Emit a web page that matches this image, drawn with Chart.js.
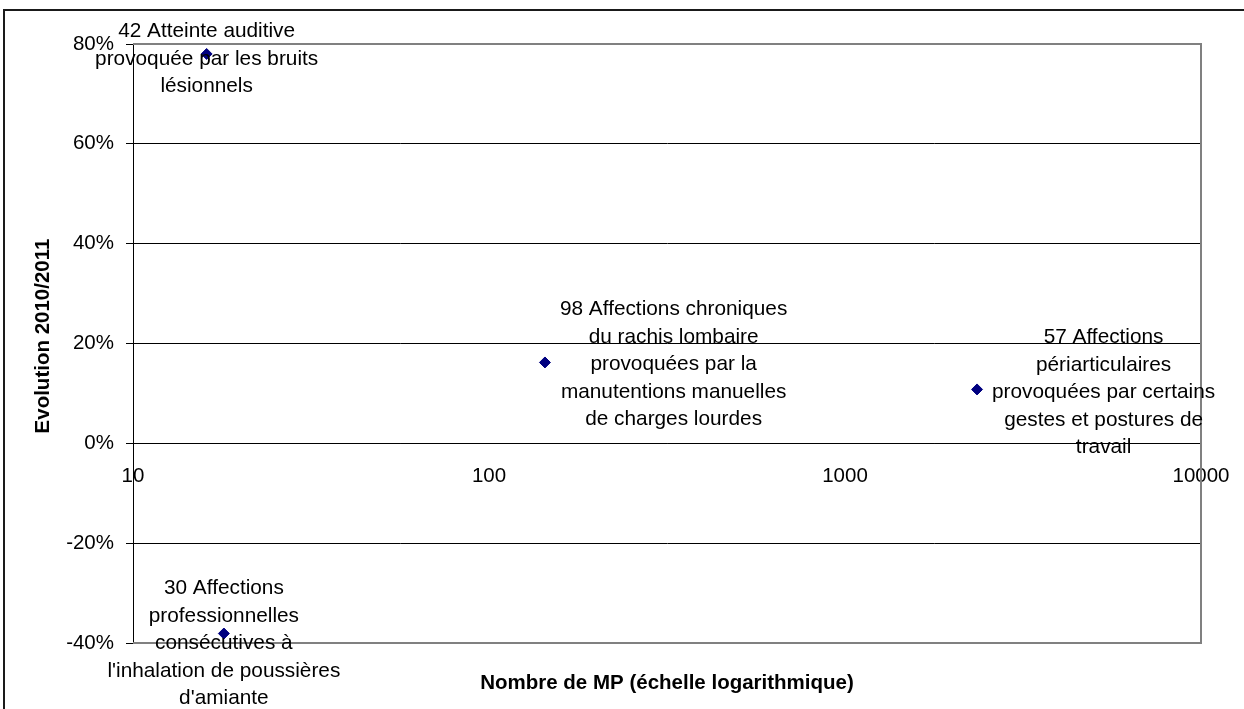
<!DOCTYPE html>
<html>
<head>
<meta charset="utf-8">
<script src="https://cdn.jsdelivr.net/npm/chart.js@4/dist/chart.umd.min.js"></script>
<style>
  html, body { margin: 0; padding: 0; background: #fff; }
  #wrap { width: 1244px; height: 709px; }
</style>
</head>
<body>
<div id="wrap"><canvas id="myChart" width="1244" height="709"></canvas></div>
<script>
// data
const labels = [
  ['42 Atteinte auditive', 'provoquée par les bruits', 'lésionnels'],
  ['98 Affections chroniques', 'du rachis lombaire', 'provoquées par la', 'manutentions manuelles', 'de charges lourdes'],
  ['57 Affections', 'périarticulaires', 'provoquées par certains', 'gestes et postures de', 'travail'],
  ['30 Affections', 'professionnelles', 'consécutives à', "l'inhalation de poussières", "d'amiante"]
];
const nbMP = [16.1, 143.6, 2349, 18.0];
const evolution = [78.0, 16.2, 10.8, -38.1];
const yTicks = [-40, -20, 0, 20, 40, 60, 80];
const xTicks = [10, 100, 1000, 10000];
const labelPlacement = ['center', 'right', 'right', 'center'];
const labelShift = [5, 2, 3, 10];
const xTitle = 'Nombre de MP (échelle logarithmique)';
const yTitle = 'Evolution 2010/2011';

const FONT = '"Liberation Sans", Arial, sans-serif';

// point labels, axis titles and frames
const decorations = {
  id: 'decorations',
  beforeDatasetsDraw(chart) {
    const { ctx, chartArea: a } = chart;
    ctx.save();
    ctx.strokeStyle = '#808080';
    ctx.lineWidth = 2;
    ctx.beginPath();
    ctx.moveTo(a.left, a.top);
    ctx.lineTo(a.right, a.top);
    ctx.lineTo(a.right, a.bottom);
    ctx.lineTo(a.left, a.bottom);
    ctx.stroke();
    ctx.restore();
  },
  afterDraw(chart) {
    const { ctx, chartArea: a, scales } = chart;
    ctx.save();
    ctx.fillStyle = '#000';
    ctx.textBaseline = 'middle';
    ctx.textAlign = 'center';

    // point labels
    ctx.font = '20.8px ' + FONT;
    const lh = 27.5;
    labels.forEach((lines, i) => {
      const px = scales.x.getPixelForValue(nbMP[i]);
      const py = scales.y.getPixelForValue(evolution[i]);
      const w = Math.max(...lines.map(l => ctx.measureText(l).width));
      const cx = labelPlacement[i] === 'right' ? px + 15 + w / 2 : px;
      const top = py + labelShift[i] - (lines.length - 1) * lh / 2;
      lines.forEach((l, j) => ctx.fillText(l, cx, top + j * lh));
    });

    // axis titles
    ctx.font = 'bold 20.5px ' + FONT;
    ctx.fillText(xTitle, (a.left + a.right) / 2, 683);
    ctx.translate(43, 336);
    ctx.rotate(-Math.PI / 2);
    ctx.fillText(yTitle, 0, 0);
    ctx.restore();

    // outer chart frame
    ctx.save();
    ctx.strokeStyle = '#1a1a1a';
    ctx.lineWidth = 2;
    ctx.strokeRect(4, 10, 1400, 900);
    ctx.restore();
  }
};

const canvas = document.getElementById('myChart');
const ctx = canvas.getContext('2d');

new Chart(ctx, {
  type: 'scatter',
  data: {
    datasets: [{
      label: 'MP',
      data: nbMP.map((v, i) => ({ x: v, y: evolution[i] })),
      pointStyle: 'rectRot',
      pointRadius: 5.5,
      pointHoverRadius: 5.5,
      backgroundColor: '#000080',
      borderColor: '#000080',
      borderWidth: 1
    }]
  },
  options: {
    responsive: false,
    animation: false,
    devicePixelRatio: 1,
    layout: { padding: { left: 0, top: 44, right: 43, bottom: 66 } },
    plugins: {
      legend: { display: false },
      tooltip: { enabled: false }
    },
    scales: {
      x: {
        type: 'logarithmic',
        min: 10,
        max: 10000,
        position: { y: 0 },
        afterBuildTicks: s => { s.ticks = xTicks.map(v => ({ value: v })); },
        afterFit: s => { s.paddingLeft = 0; s.paddingRight = 0; },
        ticks: {
          color: '#000',
          font: { family: FONT, size: 20.5 },
          padding: 21,
          maxRotation: 0,
          autoSkip: false,
          callback: v => String(v)
        },
        grid: { display: false, drawTicks: false },
        border: { display: true, color: '#000', width: 1 }
      },
      y: {
        type: 'linear',
        min: -40,
        max: 80,
        afterBuildTicks: s => { s.ticks = yTicks.map(v => ({ value: v })); },
        afterFit: s => { s.width = 133; s.paddingTop = 0; s.paddingBottom = 0; },
        ticks: {
          color: '#000',
          font: { family: FONT, size: 20.5 },
          padding: 12,
          callback: v => v + '%'
        },
        grid: {
          color: c => (c.tick && (c.tick.value === 80 || c.tick.value === -40)) ? 'rgba(0,0,0,0)' : '#000',
          lineWidth: 1,
          drawTicks: true,
          tickLength: 7,
          tickColor: '#000'
        },
        border: { display: true, color: '#000', width: 1 }
      }
    }
  },
  plugins: [decorations]
});
</script>
</body>
</html>
